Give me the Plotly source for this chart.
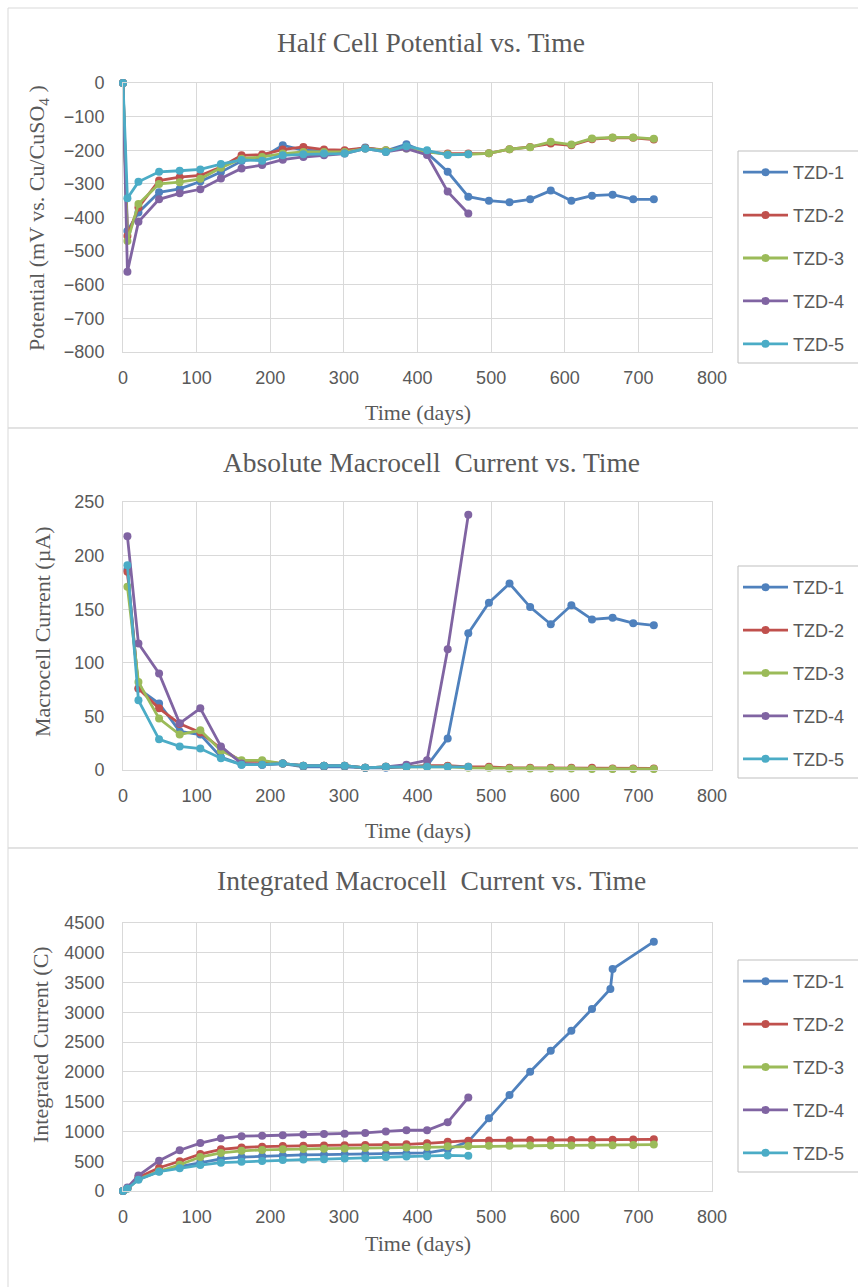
import plotly.graph_objects as go

# ---------------- data ----------------
series_names = ["TZD-1", "TZD-2", "TZD-3", "TZD-4", "TZD-5"]
series_colors = ["#4F81BD", "#C0504D", "#9BBB59", "#8064A2", "#4BACC6"]

days = [0, 6, 21, 49, 77, 105, 133, 161, 189, 217, 245, 273, 301, 329, 357,
        385, 413, 441, 469, 497, 525, 553, 581, 609, 637, 665, 693, 721]

# Half cell potential (mV vs Cu/CuSO4)
pot_tzd1 = [0, -440, -385, -325, -315, -293, -265, -232, -222, -185, -200, -202, -205, -192, -202,
            -182, -208, -264, -338, -350, -355, -346, -320, -350, -335, -332, -346, -346]
pot_tzd2 = [0, -455, -370, -290, -280, -275, -250, -215, -213, -198, -190, -198, -200, -193, -200,
            -193, -205, -210, -210, -209, -197, -190, -180, -185, -167, -163, -163, -168]
pot_tzd3 = [0, -470, -360, -300, -295, -285, -252, -225, -220, -210, -205, -205, -205, -195, -200,
            -195, -205, -212, -212, -209, -197, -191, -175, -183, -165, -162, -162, -166]
pot_tzd4 = [0, -561, -413, -346, -328, -316, -284, -254, -244, -228, -220, -215, -210, -195, -205,
            -195, -214, -323, -388] + [None] * 9
pot_tzd5 = [0, -343, -294, -264, -261, -257, -241, -229, -231, -215, -212, -210, -210, -195, -205,
            -188, -200, -214, -212] + [None] * 9

# Absolute macrocell current (uA)
cur_tzd1 = [None, 187, 76, 62, 36, 33, 12, 5, 5, 6, 3, 3, 3, 2, 2,
            3, 4, 29.5, 127.5, 156, 174, 152, 136, 153.6, 140.5, 142, 137, 135]
cur_tzd2 = [None, 185, 76, 57.5, 43, 35, 20, 8, 8, 6, 4, 4, 4, 2, 3,
            3, 4, 4, 3, 3, 2, 2, 2, 2, 2, 1.5, 1.5, 1.5]
cur_tzd3 = [None, 171, 82, 48, 33, 37, 18, 9, 9, 6, 4, 4, 4, 2, 3,
            3, 3, 3, 2, 2, 1.5, 1.5, 1.5, 1.5, 1, 1, 1, 1]
cur_tzd4 = [None, 218, 118, 90, 43.5, 57.5, 22, 6, 5, 6, 4, 4, 4, 2, 3,
            5, 9, 112.6, 238] + [None] * 9
cur_tzd5 = [None, 191, 65, 28.6, 22, 20, 11, 5, 5, 6, 4, 4, 4, 2, 3,
            3, 3, 3, 3] + [None] * 9

# Integrated macrocell current (C)
days_int = [0, 6, 21, 49, 77, 105, 133, 161, 189, 217, 245, 273, 301, 329, 357,
            385, 413, 441, 469, 497, 525, 553, 581, 609, 637, 662, 665, 693, 721]
int_tzd1 = [0, 40, 200, 330, 410, 480, 540, 570, 585, 595, 605, 610, 615, 620, 625,
            630, 640, 700, 830, 1220, 1612, 2003, 2356, 2692, 3056, 3392, 3727, None, 4186]
int_tzd2 = [0, 50, 230, 390, 500, 620, 700, 730, 745, 755, 760, 765, 770, 772, 775,
            783, 800, 828, 845, 850, 853, 855, 857, 858, 860, None, 862, 865, 868]
int_tzd3 = [0, 40, 200, 330, 440, 570, 640, 675, 690, 700, 705, 710, 715, 720, 725,
            730, 740, 750, 755, 758, 760, 762, 764, 766, 768, None, 770, 772, 780]
int_tzd4 = [0, 60, 260, 510, 685, 805, 885, 920, 928, 938, 948, 955, 962, 975, 1000,
            1020, 1020, 1153, 1570] + [None] * 10
int_tzd5 = [0, 40, 190, 324, 380, 436, 476, 492, 503, 520, 528, 535, 545, 550, 570,
            580, 585, 598, 590] + [None] * 10

chart_titles = ["Half Cell Potential vs. Time",
                "Absolute Macrocell  Current vs. Time",
                "Integrated Macrocell  Current vs. Time"]
y_titles = ["Potential (mV vs. Cu/CuSO<sub>4</sub> )",
            "Macrocell Current (µA)",
            "Integrated Current (C)"]
x_title = "Time (days)"

# ---------------- figure ----------------
W, H = 858, 1287
def py(p):
    return 1 - p / H
def px(p):
    return p / W

fig = go.Figure()

panels = [
    dict(x=[days] * 5, ys=[pot_tzd1, pot_tzd2, pot_tzd3, pot_tzd4, pot_tzd5],
         top=83, bot=352, rng=[-800, 0], dtick=100, leg_top=151),
    dict(x=[days] * 5, ys=[cur_tzd1, cur_tzd2, cur_tzd3, cur_tzd4, cur_tzd5],
         top=502, bot=770, rng=[0, 250], dtick=50, leg_top=566),
    dict(x=[days_int] * 5, ys=[int_tzd1, int_tzd2, int_tzd3, int_tzd4, int_tzd5],
         top=923, bot=1191, rng=[0, 4500], dtick=500, leg_top=960),
]

x_left, x_right = 123, 712
text_col = "#595959"
grid_col = "#D9D9D9"
tick_font = dict(family="Liberation Sans, Arial, sans-serif", size=18, color=text_col)
serif = "Liberation Serif, Times New Roman, serif"

annotations = []
shapes = []
title_y = [43, 462, 881]
xt_y = [412, 830, 1243]
yt_pos = [(38, 218), (43, 632), (40, 1045)]
panel_bounds = [(8, 428), (428, 848), (848, 1300)]

for i, p in enumerate(panels):
    xa = "x" if i == 0 else f"x{i+1}"
    ya = "y" if i == 0 else f"y{i+1}"
    leg = "legend" if i == 0 else f"legend{i+1}"
    for j in range(5):
        fig.add_trace(go.Scatter(
            x=p["x"][j], y=p["ys"][j], name=series_names[j],
            mode="lines+markers",
            line=dict(color=series_colors[j], width=2.8),
            marker=dict(color=series_colors[j], size=8, symbol="circle"),
            connectgaps=True, cliponaxis=False,
            xaxis=xa, yaxis=ya, legend=leg, legendgroup=f"g{i}_{j}",
        ))
    xkey = "xaxis" if i == 0 else f"xaxis{i+1}"
    ykey = "yaxis" if i == 0 else f"yaxis{i+1}"
    lt = p["leg_top"]
    fig.update_layout(**{
        xkey: dict(domain=[px(x_left), px(x_right)], range=[0, 800], dtick=100,
                   anchor=ya, showgrid=True, gridcolor=grid_col, gridwidth=1,
                   zeroline=False, showline=True, mirror=True, linecolor=grid_col,
                   ticks="outside", ticklen=9, tickcolor="rgba(0,0,0,0)",
                   tickfont=tick_font, fixedrange=True),
        ykey: dict(domain=[py(p["bot"]), py(p["top"])], range=p["rng"], dtick=p["dtick"],
                   anchor=xa, showgrid=True, gridcolor=grid_col, gridwidth=1,
                   zeroline=False, showline=True, mirror=True, linecolor=grid_col,
                   ticks="outside", ticklen=14, tickcolor="rgba(0,0,0,0)",
                   tickfont=tick_font, fixedrange=True),
        leg: dict(x=px(738), y=py(lt + 3), xanchor="left", yanchor="top",
                  bgcolor="rgba(0,0,0,0)", borderwidth=0,
                  font=dict(family="Liberation Sans, Arial, sans-serif", size=18, color=text_col),
                  tracegroupgap=16.5, itemwidth=45),
    })
    annotations.append(dict(text=chart_titles[i], x=px(431), y=py(title_y[i]), xref="paper", yref="paper",
                            xanchor="center", yanchor="middle", showarrow=False,
                            font=dict(family=serif, size=27.5, color=text_col)))
    annotations.append(dict(text=x_title, x=px(418), y=py(xt_y[i]), xref="paper", yref="paper",
                            xanchor="center", yanchor="middle", showarrow=False,
                            font=dict(family=serif, size=22, color=text_col)))
    annotations.append(dict(text=y_titles[i], x=px(yt_pos[i][0]), y=py(yt_pos[i][1]), xref="paper", yref="paper",
                            xanchor="center", yanchor="middle", showarrow=False, textangle=-90,
                            font=dict(family=serif, size=22, color=text_col)))
    b0, b1 = panel_bounds[i]
    shapes.append(dict(type="rect", xref="paper", yref="paper", x0=px(8), x1=px(900),
                       y0=py(b1), y1=py(b0), line=dict(color="#D9D9D9", width=1),
                       fillcolor="rgba(0,0,0,0)", layer="below"))
    # legend frame (extends past the right edge, as in the reference)
    shapes.append(dict(type="rect", xref="paper", yref="paper", x0=px(738), x1=px(900),
                       y0=py(lt + 212), y1=py(lt), line=dict(color="#BFBFBF", width=1),
                       fillcolor="white", layer="below"))

fig.update_layout(
    width=W, height=H,
    margin=dict(l=0, r=0, t=0, b=0, autoexpand=False),
    paper_bgcolor="white", plot_bgcolor="white",
    annotations=annotations, shapes=shapes,
    showlegend=True,
)

fig.write_html("out.html")
